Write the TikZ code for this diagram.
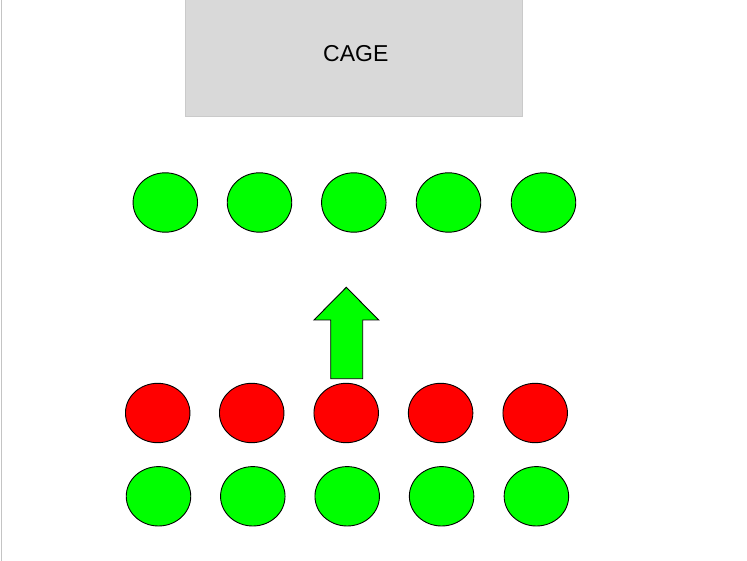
\documentclass[tikz,border=0pt]{standalone}
\usepackage{fontspec}
\setmainfont{Liberation Sans}
\usetikzlibrary{shapes.geometric}
\definecolor{cagefill}{HTML}{D9D9D9}
\definecolor{cageline}{HTML}{CACACA}
\definecolor{brightgreen}{HTML}{00FF00}
\definecolor{brightred}{HTML}{FF0000}
\definecolor{edgegray}{HTML}{C4C4C4}
\tikzset{
  dot/.style={ellipse, draw=black, line width=0.9pt, inner sep=0pt,
    minimum width=64.5pt, minimum height=59.4pt},
  gdot/.style={dot, fill=brightgreen},
  rdot/.style={dot, fill=brightred},
  cagebox/.style={fill=cagefill, draw=cageline, line width=1pt},
  arrowshape/.style={fill=brightgreen, draw=black, line width=0.9pt, line join=miter}
}
\begin{document}
\begin{tikzpicture}[x=1pt,y=-1pt]
\useasboundingbox (0,0) rectangle (747,561);
\fill[white] (0,0) rectangle (747,561);
\draw[edgegray, line width=1pt] (1.5,0) -- (1.5,561);
% cage
\draw[cagebox] (185,-2) rectangle (522,117);
\node (cage) at (355.8,53.4) {\fontsize{23}{27}\selectfont CAGE};
% top green row
\foreach \x [count=\i] in {165.3,259.5,353.8,448.5,543.5}
  \node[gdot] (t\i) at (\x,202.5) {};
% red row
\foreach \x [count=\i] in {157.7,251.7,346.2,440.6,535.2}
  \node[rdot] (r\i) at (\x,413) {};
% bottom green row
\foreach \x [count=\i] in {158.5,252.8,347.2,441.6,536.4}
  \node[gdot] (b\i) at (\x,496.3) {};
% arrow
\draw[arrowshape] (330.7,378.7) -- (330.7,320) -- (314,320) -- (346.3,287.3)
  -- (378.7,320) -- (362.7,320) -- (362.7,378.7) -- cycle;
\end{tikzpicture}
\end{document}
